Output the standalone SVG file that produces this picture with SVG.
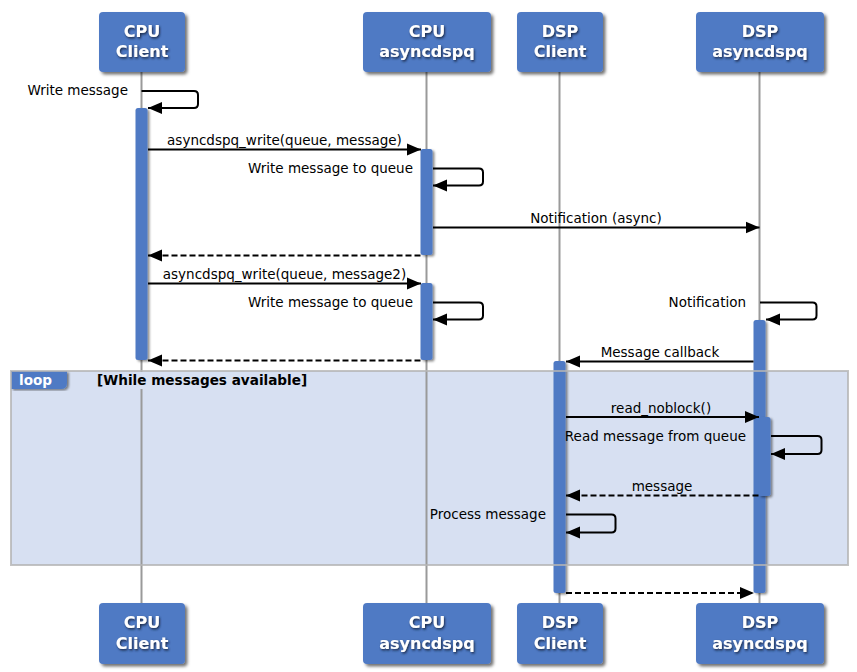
<svg xmlns="http://www.w3.org/2000/svg" width="857" height="672" viewBox="0 0 857 672">
  <defs>
    <style>
      .box { fill: #4f7ac4; }
      .ptext { font-family: "DejaVu Sans", "Liberation Sans", sans-serif; font-weight: bold; font-size: 16px; fill: #ffffff; text-anchor: middle; }
      .life { stroke: #9a9a9a; stroke-width: 2; fill: none; }
      .act { fill: #4f7ac4; }
      .msg { stroke: #000; stroke-width: 2; fill: none; }
      .dash { stroke-dasharray: 6 3; }
      .lbl { font-family: "DejaVu Sans", "Liberation Sans", sans-serif; font-size: 13.5px; fill: #000; }
      .mid { text-anchor: middle; }
      .end { text-anchor: end; }
      .ftag { font-family: "DejaVu Sans", "Liberation Sans", sans-serif; font-weight: bold; font-size: 13.6px; }
    </style>
    <filter id="shadow" x="-20%" y="-20%" width="150%" height="150%">
      <feDropShadow dx="2.5" dy="2.5" stdDeviation="1.5" flood-color="#000" flood-opacity="0.55"/>
    </filter>
    <filter id="ashadow" x="-50%" y="-5%" width="250%" height="115%">
      <feDropShadow dx="2" dy="1.5" stdDeviation="1" flood-color="#000" flood-opacity="0.45"/>
    </filter>
    <filter id="tshadow" x="-10%" y="-30%" width="130%" height="170%">
      <feDropShadow dx="1" dy="1.5" stdDeviation="1" flood-color="#142340" flood-opacity="0.95"/>
    </filter>
    <marker id="head" markerUnits="userSpaceOnUse" markerWidth="15" markerHeight="13" refX="14" refY="6.5" orient="auto">
      <path d="M0,0.5 L14,6.5 L0,12.5 Z" fill="#000"/>
    </marker>
  </defs>

  <rect width="857" height="672" fill="#ffffff"/>

  <!-- loop frame background -->
  <rect x="11" y="371" width="837" height="194" fill="#d7e0f2"/>

  <!-- lifelines -->
  <g id="lifelines">
    <line class="life" x1="141.5" y1="72" x2="141.5" y2="603"/>
    <line class="life" x1="426.5" y1="72" x2="426.5" y2="603"/>
    <line class="life" x1="559.5" y1="72" x2="559.5" y2="603"/>
    <line class="life" x1="759.5" y1="72" x2="759.5" y2="603"/>
  </g>

  <!-- loop frame header -->
  <g id="loop-frame">
    <rect x="88" y="372" width="225" height="17" fill="#d7e0f2"/>
    <path d="M11,371 H67 V383 Q67,389 61,389 H11 Z" fill="#4f7ac4" filter="url(#ashadow)"/>
    <text class="ftag" x="19" y="385" fill="#ffffff">loop</text>
    <text class="ftag" x="97" y="385" fill="#000000">[While messages available]</text>
  </g>

  <!-- participants -->
  <g id="cpu-client">
    <rect class="box" x="99" y="12" width="86" height="60" rx="4" filter="url(#shadow)"/>
    <text class="ptext" x="142" y="36.5" filter="url(#tshadow)">CPU</text>
    <text class="ptext" x="142" y="57" filter="url(#tshadow)">Client</text>
    <rect class="box" x="99" y="603" width="86" height="61" rx="4" filter="url(#shadow)"/>
    <text class="ptext" x="142" y="628" filter="url(#tshadow)">CPU</text>
    <text class="ptext" x="142" y="648.5" filter="url(#tshadow)">Client</text>
  </g>
  <g id="cpu-asyncdspq">
    <rect class="box" x="363" y="12" width="128" height="60" rx="4" filter="url(#shadow)"/>
    <text class="ptext" x="427" y="36.5" filter="url(#tshadow)">CPU</text>
    <text class="ptext" x="427" y="57" filter="url(#tshadow)">asyncdspq</text>
    <rect class="box" x="363" y="603" width="128" height="61" rx="4" filter="url(#shadow)"/>
    <text class="ptext" x="427" y="628" filter="url(#tshadow)">CPU</text>
    <text class="ptext" x="427" y="648.5" filter="url(#tshadow)">asyncdspq</text>
  </g>
  <g id="dsp-client">
    <rect class="box" x="517" y="12" width="86" height="60" rx="4" filter="url(#shadow)"/>
    <text class="ptext" x="560" y="36.5" filter="url(#tshadow)">DSP</text>
    <text class="ptext" x="560" y="57" filter="url(#tshadow)">Client</text>
    <rect class="box" x="517" y="603" width="86" height="61" rx="4" filter="url(#shadow)"/>
    <text class="ptext" x="560" y="628" filter="url(#tshadow)">DSP</text>
    <text class="ptext" x="560" y="648.5" filter="url(#tshadow)">Client</text>
  </g>
  <g id="dsp-asyncdspq">
    <rect class="box" x="696" y="12" width="128" height="60" rx="4" filter="url(#shadow)"/>
    <text class="ptext" x="760" y="36.5" filter="url(#tshadow)">DSP</text>
    <text class="ptext" x="760" y="57" filter="url(#tshadow)">asyncdspq</text>
    <rect class="box" x="696" y="603" width="128" height="61" rx="4" filter="url(#shadow)"/>
    <text class="ptext" x="760" y="628" filter="url(#tshadow)">DSP</text>
    <text class="ptext" x="760" y="648.5" filter="url(#tshadow)">asyncdspq</text>
  </g>

  <!-- activation bars -->
  <g id="activations">
    <rect class="act" x="135.5" y="108" width="12" height="252" rx="2.5" filter="url(#ashadow)"/>
    <rect class="act" x="420.5" y="149" width="12" height="106" rx="2.5" filter="url(#ashadow)"/>
    <rect class="act" x="420.5" y="283" width="12" height="77" rx="2.5" filter="url(#ashadow)"/>
    <rect class="act" x="753.5" y="320" width="12" height="273" rx="2.5" filter="url(#ashadow)"/>
    <rect class="act" x="758.5" y="417" width="12" height="79" rx="2.5" filter="url(#ashadow)"/>
    <rect class="act" x="553.5" y="361" width="12" height="232" rx="2.5" filter="url(#ashadow)"/>
  </g>

  <!-- messages -->
  <g id="connectors">
    <path class="msg" d="M141.5,91 H194 Q198,91 198,95 V104 Q198,108 194,108 H148" marker-end="url(#head)"/>
    <line class="msg" x1="148" y1="149.5" x2="421" y2="149.5" marker-end="url(#head)"/>
    <path class="msg" d="M433,168.5 H479 Q483,168.5 483,172.5 V181.5 Q483,185.5 479,185.5 H433" marker-end="url(#head)"/>
    <line class="msg" x1="433" y1="227.5" x2="759.5" y2="227.5" marker-end="url(#head)"/>
    <line class="msg dash" x1="420.5" y1="255.5" x2="148" y2="255.5" marker-end="url(#head)"/>
    <line class="msg" x1="148" y1="283.5" x2="421" y2="283.5" marker-end="url(#head)"/>
    <path class="msg" d="M433,302.5 H479 Q483,302.5 483,306.5 V315.5 Q483,319.5 479,319.5 H433" marker-end="url(#head)"/>
    <path class="msg" d="M760,302.5 H812.5 Q816.5,302.5 816.5,306.5 V315.5 Q816.5,319.5 812.5,319.5 H766" marker-end="url(#head)"/>
    <line class="msg dash" x1="420.5" y1="360.5" x2="148" y2="360.5" marker-end="url(#head)"/>
    <line class="msg" x1="753.5" y1="361.5" x2="566" y2="361.5" marker-end="url(#head)"/>
    <line class="msg" x1="566" y1="417" x2="759" y2="417" marker-end="url(#head)"/>
    <path class="msg" d="M771,436 H817.5 Q821.5,436 821.5,440 V450 Q821.5,454 817.5,454 H771" marker-end="url(#head)"/>
    <line class="msg dash" x1="758.5" y1="495.5" x2="566" y2="495.5" marker-end="url(#head)"/>
    <path class="msg" d="M566,514.5 H611.5 Q615.5,514.5 615.5,518.5 V528.5 Q615.5,532.5 611.5,532.5 H566" marker-end="url(#head)"/>
    <line class="msg dash" x1="566" y1="593" x2="754" y2="593" marker-end="url(#head)"/>
  </g>

  <!-- message labels -->
  <g id="labels">
    <text class="lbl end" x="128" y="95">Write message</text>
    <text class="lbl mid" x="284.5" y="145">asyncdspq_write(queue, message)</text>
    <text class="lbl end" x="413" y="172.5">Write message to queue</text>
    <text class="lbl mid" x="596" y="223">Notification (async)</text>
    <text class="lbl mid" x="284.5" y="279">asyncdspq_write(queue, message2)</text>
    <text class="lbl end" x="413" y="306.5">Write message to queue</text>
    <text class="lbl end" x="746" y="306.5">Notification</text>
    <text class="lbl mid" x="660" y="357">Message callback</text>
    <text class="lbl mid" x="661" y="412.5">read_noblock()</text>
    <text class="lbl end" x="746" y="441">Read message from queue</text>
    <text class="lbl mid" x="662" y="491">message</text>
    <text class="lbl end" x="546" y="519">Process message</text>
  </g>

  <!-- loop frame border -->
  <rect x="11" y="371" width="837" height="194" fill="none" stroke="#b4b4b4" stroke-opacity="0.8" stroke-width="2"/>
</svg>
